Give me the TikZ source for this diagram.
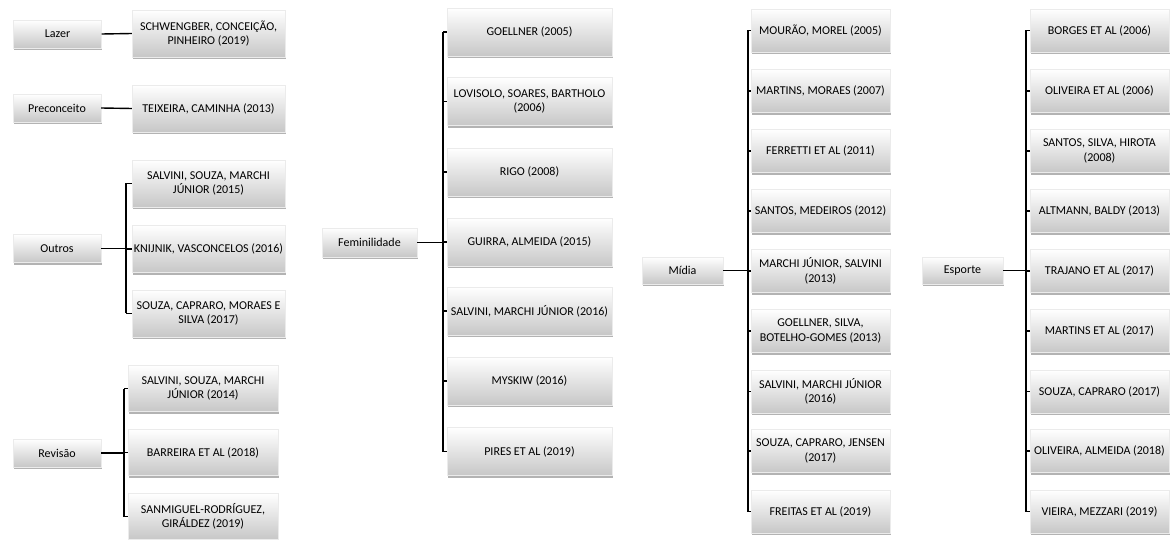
\documentclass[tikz,border=0pt]{standalone}
\usepackage{fontspec}
\setmainfont{Carlito}
\usetikzlibrary{shadows}
\tikzset{
  boxbase/.style={rectangle, inner sep=1pt, align=center, top color=white, bottom color=black!22,
    draw=black!8, line width=0.3pt,
    drop shadow={shadow xshift=0.8pt, shadow yshift=-2.2pt, fill=black!50, opacity=.6},
    font=\fontsize{12}{14.4}\selectfont, text=black},
  catbox/.style={boxbase, minimum width=88pt, minimum height=28pt},
  refbox/.style={boxbase, minimum width=153pt, minimum height=47pt},
  fembox/.style={boxbase, minimum width=165pt, minimum height=48pt},
  colbox/.style={boxbase, minimum width=139pt, minimum height=43pt},
  link/.style={line width=1.4pt, draw=black}
}
\begin{document}
\begin{tikzpicture}[x=1pt,y=-1pt]
\useasboundingbox (0,0) rectangle (1171,540);

% ---------- column 1 ----------
\node[catbox] (lazer) at (57.5,34) {Lazer};
\node[refbox] (lazer1) at (208.5,33.5) {SCHWENGBER, CONCEIÇÃO,\\PINHEIRO (2019)};
\draw[link] (lazer.east) -- (lazer1.west);

\node[catbox] (prec) at (57,108) {Preconceito};
\node[refbox] (prec1) at (208.5,108.5) {TEIXEIRA, CAMINHA (2013)};
\draw[link] (prec.east) -- (prec1.west);

\node[catbox] (outros) at (57,248.5) {Outros};
\node[refbox] (out1) at (208.5,183.5) {SALVINI, SOUZA, MARCHI\\JÚNIOR (2015)};
\node[refbox] (out2) at (208.5,249) {KNIJNIK, VASCONCELOS (2016)};
\node[refbox] (out3) at (208.5,313.5) {SOUZA, CAPRARO, MORAES E\\SILVA (2017)};
\coordinate (outb) at (126,0);
\draw[link] (outros.east) -- (outros.east -| outb);
\draw[link] (out1.west -| outb) -- (out3.west -| outb);
\foreach \i in {1,2,3} \draw[link] (out\i.west) -- (out\i.west -| outb);

\node[catbox] (rev) at (57,453) {Revisão};
\node[refbox, minimum width=150pt, minimum height=46pt] (rev1) at (203,388.5) {SALVINI, SOUZA, MARCHI\\JÚNIOR (2014)};
\node[refbox, minimum width=150pt, minimum height=46pt] (rev2) at (203,452.5) {BARREIRA ET AL (2018)};
\node[refbox, minimum width=150pt, minimum height=46pt] (rev3) at (203,516.5) {SANMIGUEL-RODRÍGUEZ,\\GIRÁLDEZ (2019)};
\coordinate (revb) at (124,0);
\draw[link] (rev.east) -- (rev.east -| revb);
\draw[link] (rev1.west -| revb) -- (rev3.west -| revb);
\foreach \i in {1,2,3} \draw[link] (rev\i.west) -- (rev\i.west -| revb);

% ---------- Feminilidade ----------
\node[catbox, minimum width=95pt, minimum height=29pt] (fem) at (369.5,242.5) {Feminilidade};
\node[fembox] (fem1) at (529.5,32) {GOELLNER (2005)};
\node[fembox] (fem2) at (529.5,101.5) {LOVISOLO, SOARES, BARTHOLO\\(2006)};
\node[fembox] (fem3) at (529.5,172) {RIGO (2008)};
\node[fembox] (fem4) at (529.5,242) {GUIRRA, ALMEIDA (2015)};
\node[fembox] (fem5) at (529.5,311) {SALVINI, MARCHI JÚNIOR (2016)};
\node[fembox] (fem6) at (529.5,381) {MYSKIW (2016)};
\node[fembox] (fem7) at (529.5,451.5) {PIRES ET AL (2019)};
\coordinate (femb) at (443,0);
\draw[link] (fem.east) -- (fem.east -| femb);
\draw[link] (fem1.west -| femb) -- (fem7.west -| femb);
\foreach \i in {1,...,7} \draw[link] (fem\i.west) -- (fem\i.west -| femb);

% ---------- Mídia ----------
\node[catbox, minimum width=81pt, minimum height=27pt] (mid) at (682.5,270.5) {Mídia};
\node[colbox] (mid1) at (820.5,30.5) {MOURÃO, MOREL (2005)};
\node[colbox] (mid2) at (820.5,91) {MARTINS, MORAES (2007)};
\node[colbox] (mid3) at (820.5,151) {FERRETTI ET AL (2011)};
\node[colbox] (mid4) at (820.5,211) {SANTOS, MEDEIROS (2012)};
\node[colbox] (mid5) at (820.5,271) {MARCHI JÚNIOR, SALVINI\\(2013)};
\node[colbox] (mid6) at (820.5,331) {GOELLNER, SILVA,\\BOTELHO-GOMES (2013)};
\node[colbox] (mid7) at (820.5,391.5) {SALVINI, MARCHI JÚNIOR\\(2016)};
\node[colbox] (mid8) at (820.5,451) {SOUZA, CAPRARO, JENSEN\\(2017)};
\node[colbox] (mid9) at (820.5,511.5) {FREITAS ET AL (2019)};
\coordinate (midb) at (748,0);
\draw[link] (mid.east) -- (mid.east -| midb);
\draw[link] (mid1.west -| midb) -- (mid9.west -| midb);
\foreach \i in {1,...,9} \draw[link] (mid\i.west) -- (mid\i.west -| midb);

% ---------- Esporte ----------
\node[catbox, minimum width=81pt, minimum height=27pt] (esp) at (962.5,270.5) {Esporte};
\node[colbox] (esp1) at (1099.5,30.5) {BORGES ET AL (2006)};
\node[colbox] (esp2) at (1099.5,91) {OLIVEIRA ET AL (2006)};
\node[colbox] (esp3) at (1099.5,151) {SANTOS, SILVA, HIROTA\\(2008)};
\node[colbox] (esp4) at (1099.5,211) {ALTMANN, BALDY (2013)};
\node[colbox] (esp5) at (1099.5,271) {TRAJANO ET AL (2017)};
\node[colbox] (esp6) at (1099.5,331) {MARTINS ET AL (2017)};
\node[colbox] (esp7) at (1099.5,391.5) {SOUZA, CAPRARO (2017)};
\node[colbox] (esp8) at (1099.5,451) {OLIVEIRA, ALMEIDA (2018)};
\node[colbox] (esp9) at (1099.5,511.5) {VIEIRA, MEZZARI (2019)};
\coordinate (espb) at (1026,0);
\draw[link] (esp.east) -- (esp.east -| espb);
\draw[link] (esp1.west -| espb) -- (esp9.west -| espb);
\foreach \i in {1,...,9} \draw[link] (esp\i.west) -- (esp\i.west -| espb);
\end{tikzpicture}
\end{document}
